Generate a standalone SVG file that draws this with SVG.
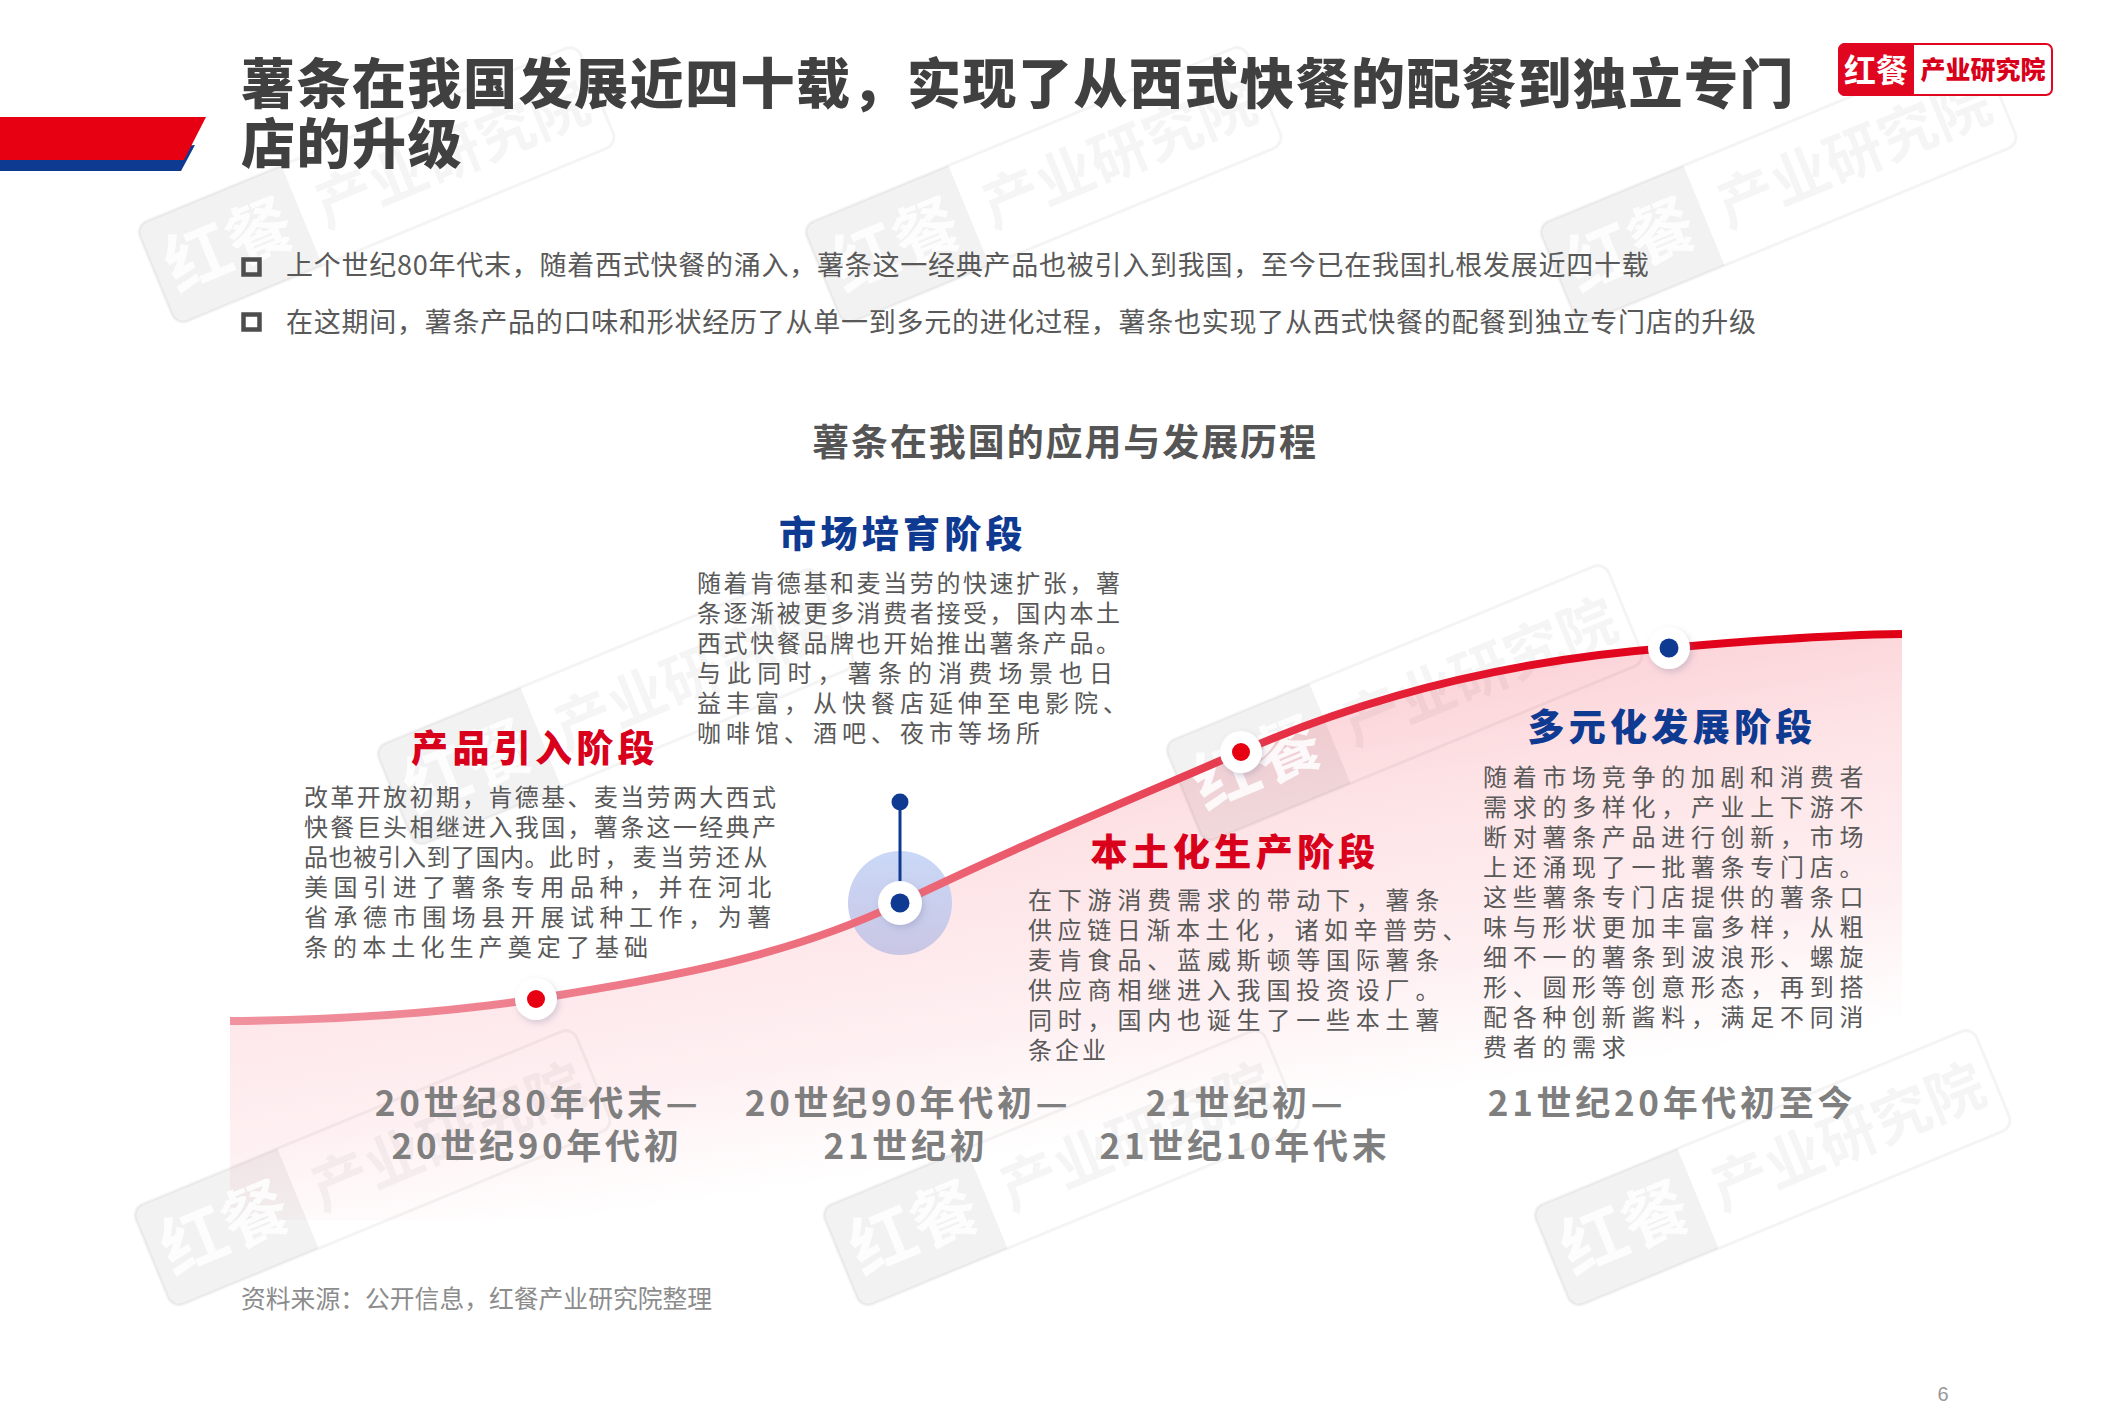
<svg xmlns="http://www.w3.org/2000/svg" width="2126" height="1417" viewBox="0 0 2126 1417">
<style>
text{font-family:"Noto Sans CJK SC","Noto Sans",sans-serif}
.title{font-size:54px;font-weight:900;fill:#404040;letter-spacing:1.5px}
.bul{font-size:27px;fill:#595959;letter-spacing:.75px}
.bx{fill:none;stroke:#4d4d4d;stroke-width:4.5px}
.head{font-size:37px;font-weight:700;fill:#555;letter-spacing:1.9px;text-anchor:middle}
.st{font-size:37px;font-weight:900;letter-spacing:4.3px;text-anchor:middle}
.r{fill:#d9001b}.b{fill:#0f3a92}
.body{font-size:24px;fill:#595959}
.date{font-size:35px;font-weight:700;fill:#7f7f7f;letter-spacing:3.7px;text-anchor:middle}
.wmb{fill:#000;fill-opacity:.05}
.wmo{fill:none;stroke:#000;stroke-opacity:.045;stroke-width:3px}
.wmt{font-size:66px;font-weight:700;fill:#fff;fill-opacity:.85;text-anchor:middle}
.wms{font-size:58px;font-weight:700;fill:#000;fill-opacity:.04;text-anchor:middle}
</style>
<defs>
<linearGradient id="area" gradientUnits="userSpaceOnUse" x1="1080" y1="640" x2="1154" y2="1135">
<stop offset="0" stop-color="#fac8ce"/><stop offset=".4" stop-color="#fde3e6"/><stop offset=".75" stop-color="#fef0f2"/><stop offset="1" stop-color="#fff"/>
</linearGradient>
<linearGradient id="line" gradientUnits="userSpaceOnUse" x1="230" y1="0" x2="1902" y2="0">
<stop offset="0" stop-color="#f0929f"/><stop offset=".42" stop-color="#ec6676"/><stop offset=".8" stop-color="#e1061f"/><stop offset="1" stop-color="#e00016"/>
</linearGradient>
<linearGradient id="halo" x1="0" y1="0" x2="0" y2="1"><stop offset="0" stop-color="#cad8f7"/><stop offset="1" stop-color="#c9c6e4"/></linearGradient>
<filter id="sh" x="-50%" y="-50%" width="200%" height="200%"><feDropShadow dx="2" dy="3" stdDeviation="3" flood-color="#7a7aa0" flood-opacity=".3"/></filter>
<g id="wm">
<rect class="wmo" x="-238" y="-54" width="477" height="108" rx="12"/>
<path class="wmb" d="M-226-54H-80V54H-226a12 12 0 0 1-12-12V-42a12 12 0 0 1 12-12z"/>
<text class="wmt" x="-159" y="23">红餐</text>
<text class="wms" x="82" y="21">产业研究院</text>
</g>
</defs>
<rect width="2126" height="1417" fill="#fff"/>
<path id="area-fill" fill="url(#area)" d="M230 1021C330 1020 430 1015 536 999C660 978 780 960 900 903C1020 845 1130 800 1240.600 752C1370 695 1510 660 1669 648C1760 640 1830 635 1902 634V1220H230Z"/>
<g id="watermarks">
<use href="#wm" transform="translate(376 185) rotate(-22.400)"/>
<use href="#wm" transform="translate(1043 185) rotate(-22.400)"/>
<use href="#wm" transform="translate(1778 185) rotate(-22.400)"/>
<use href="#wm" transform="translate(615 707) rotate(-22.400)"/>
<use href="#wm" transform="translate(1404 703) rotate(-22.400)"/>
<use href="#wm" transform="translate(372 1168) rotate(-22.400)"/>
<use href="#wm" transform="translate(1061 1168) rotate(-22.400)"/>
<use href="#wm" transform="translate(1772 1168) rotate(-22.400)"/>
</g>
<g id="banner">
<polygon points="195,145 181,171 0,171 0,160 195,145" fill="#0f3a92"/>
<polygon points="0,117 206,117 184,160 0,160" fill="#e60012"/>
</g>
<g id="logo">
<rect x="1839" y="44" width="213" height="51" rx="6" fill="#fff" stroke="#e1061f" stroke-width="2"/>
<path d="M1845 43H1914V96H1845a7 7 0 0 1-7-7V50a7 7 0 0 1 7-7z" fill="#e1061f"/>
<text x="1876" y="82" font-size="32" font-weight="700" fill="#fff" text-anchor="middle">红餐</text>
<text x="1983" y="79" font-size="25" font-weight="900" fill="#d9001b" text-anchor="middle">产业研究院</text>
</g>
<g id="heading">
<text class="title" x="241" y="104">薯条在我国发展近四十载，实现了从西式快餐的配餐到独立专门</text>
<text class="title" x="241" y="164">店的升级</text>
</g>
<g id="bullets">
<rect class="bx" x="243.500" y="259.500" width="16" height="15"/>
<text class="bul" x="286" y="275">上个世纪80年代末，随着西式快餐的涌入，薯条这一经典产品也被引入到我国，至今已在我国扎根发展近四十载</text>
<rect class="bx" x="243.500" y="314.500" width="16" height="15"/>
<text class="bul" x="286" y="332">在这期间，薯条产品的口味和形状经历了从单一到多元的进化过程，薯条也实现了从西式快餐的配餐到独立专门店的升级</text>
</g>
<text class="head" x="1065" y="456">薯条在我国的应用与发展历程</text>
<g id="connectors">
<circle cx="900" cy="903" r="52" fill="url(#halo)"/>
<path d="M230 1021C330 1020 430 1015 536 999C660 978 780 960 900 903C1020 845 1130 800 1240.600 752C1370 695 1510 660 1669 648C1760 640 1830 635 1902 634" fill="none" stroke="url(#line)" stroke-width="8"/>
<line x1="900" y1="802" x2="900" y2="890" stroke="#0f3a92" stroke-width="3"/>
</g>
<g id="stage-1">
<circle cx="536" cy="999" r="21" fill="#fff" filter="url(#sh)"/><circle cx="536" cy="999" r="9" fill="#e60012"/>
<text class="st r" x="535" y="762">产品引入阶段</text>
<text class="body" x="304" y="806" letter-spacing="2.350">改革开放初期，肯德基、麦当劳两大西式</text>
<text class="body" x="304" y="836" letter-spacing="2.350">快餐巨头相继进入我国，薯条这一经典产</text>
<text class="body" x="304" y="866"><tspan letter-spacing=".5">品也被引入到了国内。</tspan><tspan letter-spacing="3.800">此时，麦当劳还从</tspan></text>
<text class="body" x="304" y="896" letter-spacing="5.550">美国引进了薯条专用品种，并在河北</text>
<text class="body" x="304" y="926" letter-spacing="5.550">省承德市围场县开展试种工作，为薯</text>
<text class="body" x="304" y="956" letter-spacing="5.100">条的本土化生产奠定了基础</text>
<text class="date" x="538" y="1116">20世纪80年代末—</text>
<text class="date" x="537" y="1159">20世纪90年代初</text>
</g>
<g id="stage-2">
<circle cx="900" cy="903" r="22" fill="#fff" filter="url(#sh)"/><circle cx="900" cy="903" r="9.500" fill="#0f3a92"/>
<circle cx="900" cy="802" r="8.500" fill="#0f3a92"/>
<text class="st b" x="903" y="548">市场培育阶段</text>
<text class="body" x="697" y="592" letter-spacing="2.600">随着肯德基和麦当劳的快速扩张，薯</text>
<text class="body" x="697" y="622" letter-spacing="2.600">条逐渐被更多消费者接受，国内本土</text>
<text class="body" x="697" y="652" letter-spacing="2.600">西式快餐品牌也开始推出薯条产品。</text>
<text class="body" x="697" y="682" letter-spacing="6.150">与此同时，薯条的消费场景也日</text>
<text class="body" x="697" y="712" letter-spacing="5">益丰富，从快餐店延伸至电影院、</text>
<text class="body" x="697" y="742" letter-spacing="5">咖啡馆、酒吧、夜市等场所</text>
<text class="date" x="908" y="1116">20世纪90年代初—</text>
<text class="date" x="906" y="1159">21世纪初</text>
</g>
<g id="stage-3">
<circle cx="1241" cy="752" r="21" fill="#fff" filter="url(#sh)"/><circle cx="1241" cy="752" r="9" fill="#e60012"/>
<text class="st r" x="1235" y="866">本土化生产阶段</text>
<text class="body" x="1028" y="909" letter-spacing="5.800">在下游消费需求的带动下，薯条</text>
<text class="body" x="1028" y="939" letter-spacing="5.600">供应链日渐本土化，诸如辛普劳、</text>
<text class="body" x="1028" y="969" letter-spacing="5.800">麦肯食品、蓝威斯顿等国际薯条</text>
<text class="body" x="1028" y="999" letter-spacing="5.800">供应商相继进入我国投资设厂。</text>
<text class="body" x="1028" y="1029" letter-spacing="5.800">同时，国内也诞生了一些本土薯</text>
<text class="body" x="1028" y="1059" letter-spacing="3">条企业</text>
<text class="date" x="1246" y="1116">21世纪初—</text>
<text class="date" x="1245" y="1159">21世纪10年代末</text>
</g>
<g id="stage-4">
<circle cx="1669" cy="648" r="21" fill="#fff" filter="url(#sh)"/><circle cx="1669" cy="648" r="9.500" fill="#0f3a92"/>
<text class="st b" x="1672" y="741">多元化发展阶段</text>
<text class="body" x="1483" y="786" letter-spacing="5.700">随着市场竞争的加剧和消费者</text>
<text class="body" x="1483" y="816" letter-spacing="5.700">需求的多样化，产业上下游不</text>
<text class="body" x="1483" y="846" letter-spacing="5.700">断对薯条产品进行创新，市场</text>
<text class="body" x="1483" y="876" letter-spacing="5.700">上还涌现了一批薯条专门店。</text>
<text class="body" x="1483" y="906" letter-spacing="5.700">这些薯条专门店提供的薯条口</text>
<text class="body" x="1483" y="936" letter-spacing="5.700">味与形状更加丰富多样，从粗</text>
<text class="body" x="1483" y="966" letter-spacing="5.700">细不一的薯条到波浪形、螺旋</text>
<text class="body" x="1483" y="996" letter-spacing="5.700">形、圆形等创意形态，再到搭</text>
<text class="body" x="1483" y="1026" letter-spacing="5.700">配各种创新酱料，满足不同消</text>
<text class="body" x="1483" y="1056" letter-spacing="5.700">费者的需求</text>
<text class="date" x="1672" y="1116">21世纪20年代初至今</text>
</g>
<text x="241" y="1308" font-size="24.800" fill="#8c8c8c">资料来源：公开信息，红餐产业研究院整理</text>
<text x="1943" y="1401" font-size="20" fill="#999" text-anchor="middle" style="font-family:'Liberation Sans',sans-serif">6</text>
</svg>
